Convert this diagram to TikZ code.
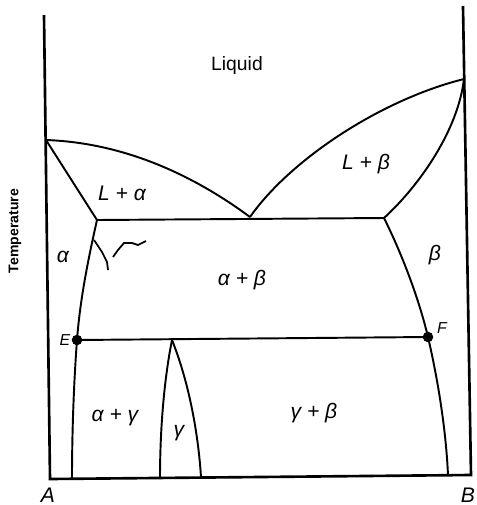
\documentclass[tikz,border=0pt]{standalone}
\usepackage{fontspec}
\setmainfont{Liberation Sans}
\begin{document}
\begin{tikzpicture}[
            x=0.02cm,
            y=-0.02cm,
            axis/.style={line width=1.5pt},
            boundary/.style={line width=1.1pt},
            dot/.style={circle,fill,inner sep=0pt,minimum size=6pt},
            phase/.style={draw=none,font=\fontsize{12}{14}\selectfont\itshape},
            note/.style={draw=none,font=\fontsize{11}{13}\selectfont}
        ]
            \useasboundingbox (0,0) rectangle (477,505);

            % axes
            \coordinate (topA) at (44,15);
            \coordinate (botA) at (50,479);
            \coordinate (topB) at (463,6);
            \coordinate (botB) at (471,475);
            \draw[axis] (topA) -- (botA) -- (botB) -- (topB);

            % melting points, eutectic and eutectoid points
            \coordinate (mA) at (46,140);
            \coordinate (mB) at (464,79);
            \coordinate (eut) at (250,217);
            \coordinate (aE) at (97,220);
            \coordinate (bE) at (384,218);
            \coordinate (gE) at (172,340);
            \node[dot] (E) at (77,340) {};
            \node[dot] (F) at (428,337) {};
            \coordinate (aA) at (72,478);
            \coordinate (bB) at (448,475);
            \coordinate (gL) at (160,478);
            \coordinate (gR) at (201,477);

            % liquidus and solidus
            \draw[boundary] (mA) .. controls (130,143) and (200,180) .. (eut);
            \draw[boundary] (eut) .. controls (290,160) and (380,100) .. (mB);
            \draw[boundary] (mA) -- (aE);
            \draw[boundary] (mB) .. controls (458,130) and (420,185) .. (bE);
            \draw[boundary] (aE) -- (bE);

            % solvus lines
            \draw[boundary] (aE) .. controls (88,260) and (80,300) .. (E.center)
                .. controls (74,380) and (72,430) .. (aA);
            \draw[boundary] (bE) .. controls (400,250) and (418,295) .. (F.center)
                .. controls (438,380) and (446,430) .. (bB);
            \draw[boundary] (E.center) -- (F.center);

            % gamma
            \draw[boundary] (gE) .. controls (164,380) and (160,430) .. (gL);
            \draw[boundary] (gE) .. controls (188,380) and (198,430) .. (gR);

            % pen mark
            \draw[line width=1pt] (94,240) -- (102,252) -- (107,262) -- (108,270);
            \draw[line width=1pt] (113,257) -- (118,250) -- (124,243) -- (132,243)
                -- (138,245) -- (146,241);

            % labels
            \node[note] (liq) at (237,65) {Liquid};
            \node[phase] (La) at (122,193) {L + α};
            \node[phase] (Lb) at (366,164) {L + β};
            \node[phase] (a) at (63,257) {α};
            \node[phase] (ab) at (242,280) {α + β};
            \node[phase] (b) at (435,255) {β};
            \node[phase] (ag) at (115,418) {α + γ};
            \node[phase] (g) at (179,433) {γ};
            \node[phase] (gb) at (314,413) {γ + β};
            \node[phase,font=\fontsize{9}{10}\selectfont\itshape] (Elab) at (65,340) {E};
            \node[phase,font=\fontsize{9}{10}\selectfont\itshape] (Flab) at (442,328) {F};
            \node[phase] (Alab) at (48,495) {A};
            \node[phase] (Blab) at (468,495) {B};
            \node[note,rotate=90,font=\fontsize{8}{10}\selectfont\bfseries] (temp) at (15,231) {Temperature};
        \end{tikzpicture}
\end{document}
